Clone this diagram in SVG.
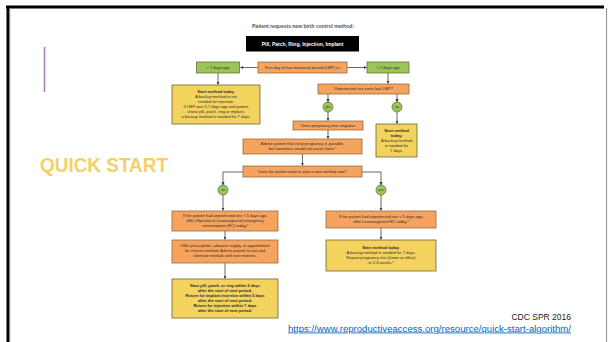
<svg xmlns="http://www.w3.org/2000/svg" width="608" height="342" viewBox="0 0 608 342">
  <style>
    .t { font-family: "Liberation Sans", Arial, sans-serif; font-size: 4px; fill: #2b2b2b; text-anchor: middle; }
    .b { font-weight: bold; }
    .org { fill: #F6A35E; stroke: #9a6a3e; stroke-width: 0.8; }
    .grn { fill: #9DC35B; stroke: #5d7a33; stroke-width: 0.8; }
    .yel { fill: #F3D35E; stroke: #6f6434; stroke-width: 0.8; }
    .con { fill: none; stroke: #3f3f3f; stroke-width: 0.8; }
    .ct { font-family: "Liberation Sans", Arial, sans-serif; font-size: 3.2px; fill: #2b2b2b; text-anchor: middle; }
  </style>
  <defs>
    <marker id="ah" viewBox="0 0 6 6" refX="5.5" refY="3" markerWidth="4" markerHeight="4" orient="auto">
      <path d="M0,0 L6,3 L0,6 z" fill="#3f3f3f"/>
    </marker>
  </defs>

  <rect width="608" height="342" fill="#ffffff"/>

  <!-- slide frame -->
  <line x1="6" y1="7" x2="604" y2="7" stroke="#000" stroke-width="3"/>
  <line x1="8" y1="6" x2="8" y2="342" stroke="#000" stroke-width="3"/>
  <line x1="9.8" y1="8" x2="9.8" y2="342" stroke="#8c8c8c" stroke-width="0.8"/>
  <line x1="606.6" y1="8" x2="606.6" y2="342" stroke="#8c8c8c" stroke-width="1"/>

  <!-- slide title accents -->
  <line x1="44.5" y1="47" x2="44.5" y2="92" stroke="#A584BC" stroke-width="1.6"/>
  <text x="40" y="172" font-family="Liberation Sans, Arial, sans-serif" font-weight="bold" font-size="20" fill="#F2D166" textLength="128" lengthAdjust="spacingAndGlyphs">QUICK START</text>

  <!-- connectors -->
  <g id="connectors">
    <line class="con" x1="258" y1="67.5" x2="240.5" y2="67.5" marker-end="url(#ah)"/>
    <line class="con" x1="347" y1="67.5" x2="366.5" y2="67.5" marker-end="url(#ah)"/>
    <line class="con" x1="218" y1="73" x2="218" y2="84.5" marker-end="url(#ah)"/>
    <line class="con" x1="388" y1="73" x2="388" y2="83.5" marker-end="url(#ah)"/>
    <line class="con" x1="328" y1="94" x2="328" y2="102" marker-end="url(#ah)"/>
    <line class="con" x1="397" y1="94" x2="397" y2="102" marker-end="url(#ah)"/>
    <line class="con" x1="328" y1="112" x2="328" y2="120.5" marker-end="url(#ah)"/>
    <line class="con" x1="397" y1="112" x2="397" y2="123.5" marker-end="url(#ah)"/>
    <line class="con" x1="328" y1="130" x2="328" y2="138.5" marker-end="url(#ah)"/>
    <line class="con" x1="302.5" y1="154" x2="302.5" y2="165.5" marker-end="url(#ah)"/>
    <polyline class="con" points="243,172 223,172 223,185" marker-end="url(#ah)"/>
    <polyline class="con" points="362,172 381,172 381,185" marker-end="url(#ah)"/>
    <line class="con" x1="223" y1="195" x2="223" y2="210.5" marker-end="url(#ah)"/>
    <line class="con" x1="225" y1="231" x2="225" y2="239.5" marker-end="url(#ah)"/>
    <line class="con" x1="225" y1="263" x2="225" y2="278.5" marker-end="url(#ah)"/>
    <line class="con" x1="381" y1="195" x2="381" y2="210.5" marker-end="url(#ah)"/>
    <line class="con" x1="381" y1="228" x2="381" y2="239.5" marker-end="url(#ah)"/>
  </g>

  <!-- heading -->
  <g id="heading">
    <text x="303" y="27.5" font-family="Liberation Sans, Arial, sans-serif" font-weight="bold" font-size="5" fill="#555" text-anchor="middle">Patient requests new birth control method:</text>
  </g>
  <g id="methods">
    <rect x="246" y="36" width="113" height="15.5" fill="#000"/>
    <text x="302.5" y="45.6" font-family="Liberation Sans, Arial, sans-serif" font-weight="bold" font-size="5" fill="#fff" text-anchor="middle">Pill, Patch, Ring, Injection, Implant</text>
  </g>

  <g id="lmp">
    <rect class="org" x="258" y="62" width="89" height="11"/>
    <text class="t" x="302.5" y="68.9">First day of last menstrual period (LMP) is:</text>
  </g>
  <g id="lt7">
    <rect class="grn" x="196.5" y="62" width="43" height="11"/>
    <text class="t" x="218" y="68.9">&lt; 7 days ago</text>
  </g>
  <g id="gt7">
    <rect class="grn" x="367" y="62" width="42" height="11"/>
    <text class="t" x="388" y="68.9">&gt; 7 days ago</text>
  </g>

  <g id="start-today-left">
    <rect class="yel" x="172" y="85" width="88" height="39"/>
    <text class="t b" x="216" y="93.4">Start method today.</text>
    <text class="t" x="216" y="98.4">A backup method is not</text>
    <text class="t" x="216" y="103.4">needed for injection.</text>
    <text class="t" x="216" y="108.4">If LMP was 5-7 days ago and patient</text>
    <text class="t" x="216" y="113.4">chose pill, patch, ring or implant,</text>
    <text class="t" x="216" y="118.4">a backup method is needed for 7 days.</text>
  </g>

  <g id="unprotected">
    <rect class="org" x="318" y="84" width="91" height="10"/>
    <text class="t" x="363.5" y="90.4">Unprotected sex since last LMP?</text>
  </g>

  <g id="yes1">
    <circle class="grn" cx="328" cy="107" r="5"/>
    <text class="ct" x="328" y="108.1">yes</text>
  </g>
  <g id="no1">
    <circle class="grn" cx="397" cy="107" r="5"/>
    <text class="ct" x="397" y="108.1">no</text>
  </g>

  <g id="urine">
    <rect class="org" x="293" y="121" width="70" height="9"/>
    <text class="t" x="328" y="126.9">Urine pregnancy test: negative</text>
  </g>

  <g id="start-today-right">
    <rect class="yel" x="376" y="124" width="41" height="33"/>
    <text class="t b" x="396.5" y="131.9">Start method</text>
    <text class="t b" x="396.5" y="136.9">today.</text>
    <text class="t" x="396.5" y="141.9">A backup method</text>
    <text class="t" x="396.5" y="146.9">is needed for</text>
    <text class="t" x="396.5" y="151.9">7 days.</text>
  </g>

  <g id="advise">
    <rect class="org" x="243" y="139" width="119" height="15"/>
    <text class="t" x="302.5" y="145.4">Advise patient that early pregnancy is possible,</text>
    <text class="t" x="302.5" y="150.4">but hormones would not cause harm.*</text>
  </g>

  <g id="new-method">
    <rect class="org" x="243" y="166" width="119" height="11"/>
    <text class="t" x="302.5" y="172.9">Does the patient want to start a new method now?</text>
  </g>

  <g id="no2">
    <circle class="grn" cx="223" cy="190" r="5"/>
    <text class="ct" x="223" y="191.1">no</text>
  </g>
  <g id="yes2">
    <circle class="grn" cx="381" cy="190" r="5"/>
    <text class="ct" x="381" y="191.1">yes</text>
  </g>

  <g id="ec-left">
    <rect class="org" x="172" y="211" width="106" height="20"/>
    <text class="t" x="225" y="217.4">If the patient had unprotected sex &lt; 5 days ago,</text>
    <text class="t" x="225" y="222.4">offer Ulipristal or Levonorgestrel emergency</text>
    <text class="t" x="225" y="227.4">contraception (EC) today.*</text>
  </g>

  <g id="offer">
    <rect class="org" x="172" y="240" width="106" height="23"/>
    <text class="t" x="225" y="247.4">Offer prescription, advance supply, or appointment</text>
    <text class="t" x="225" y="252.4">for chosen method. Advise patient to use and</text>
    <text class="t" x="225" y="257.4">alternate method until next menses.</text>
  </g>

  <g id="start-next-period">
    <rect class="yel" x="172" y="279" width="106" height="39"/>
    <text class="t b" x="225" y="287.4">Start pill, patch, or ring within 5 days</text>
    <text class="t b" x="225" y="292.4">after the start of next period.</text>
    <text class="t b" x="225" y="297.4">Return for implant insertion within 5 days</text>
    <text class="t b" x="225" y="302.4">after the start of next period.</text>
    <text class="t b" x="225" y="307.4">Return for injection within 7 days</text>
    <text class="t b" x="225" y="312.4">after the start of next period.</text>
  </g>

  <g id="ec-right">
    <rect class="org" x="326" y="211" width="110" height="17"/>
    <text class="t" x="381" y="218.4">If the patient had unprotected sex &lt; 5 days ago,</text>
    <text class="t" x="381" y="223.4">offer Levonorgestrel EC today.*</text>
  </g>

  <g id="start-backup">
    <rect class="yel" x="326" y="240" width="110" height="31"/>
    <text class="t b" x="381" y="249.4">Start method today.</text>
    <text class="t" x="381" y="254.4">A backup method is needed for 7 days.</text>
    <text class="t" x="381" y="259.4">Repeat pregnancy test (home or office)</text>
    <text class="t" x="381" y="264.4">in 2-4 weeks.*</text>
  </g>

  <!-- source -->
  <text x="571" y="319.5" font-family="Liberation Sans, Arial, sans-serif" font-size="8.5" fill="#222" text-anchor="end">CDC SPR 2016</text>
  <text x="288" y="331.5" font-family="Liberation Sans, Arial, sans-serif" font-size="8.5" fill="#0563C1" text-decoration="underline" textLength="283" lengthAdjust="spacingAndGlyphs">https://www.reproductiveaccess.org/resource/quick-start-algorithm/</text>
</svg>
